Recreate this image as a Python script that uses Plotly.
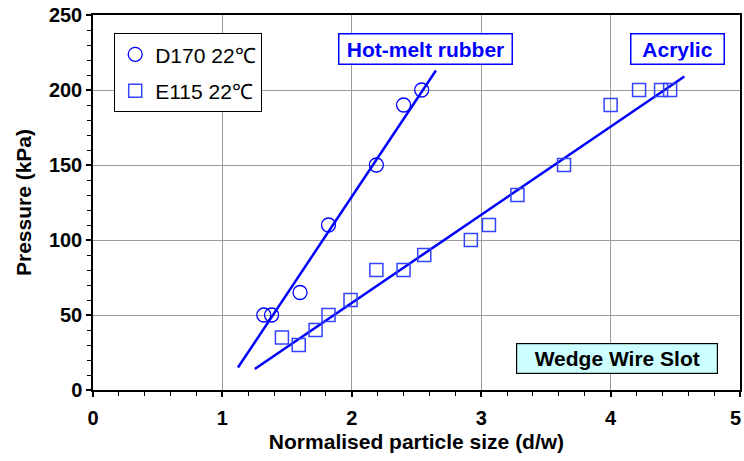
import plotly.graph_objects as go

# D170 22℃ (Hot-melt rubber) data
d170_x = [1.32, 1.38, 1.60, 1.82, 2.19, 2.40, 2.54]
d170_y = [50, 50, 65, 110, 150, 190, 200]

# E115 22℃ (Acrylic) data
e115_x = [1.46, 1.59, 1.72, 1.82, 1.99, 2.19, 2.40, 2.56, 2.92, 3.06, 3.28, 3.64, 4.00, 4.22, 4.39, 4.46]
e115_y = [35, 30, 40, 50, 60, 80, 80, 90, 100, 110, 130, 150, 190, 200, 200, 200]

# Trend line endpoints
hm_line_x = [1.12, 2.65]
hm_line_y = [15, 213]
ac_line_x = [1.25, 4.57]
ac_line_y = [14, 209]

x_ticks = [0, 1, 2, 3, 4, 5]
y_ticks = [0, 50, 100, 150, 200, 250]

BLUE = "#0000FF"
FONT = "Liberation Sans, Arial, sans-serif"

L, R, T, B = 93, 740, 15, 390
W, H = R - L, B - T


def px(xp):
    return (xp - L) / W


def py(yp):
    return 1 - (yp - T) / H


fig = go.Figure()
fig.add_trace(go.Scatter(x=hm_line_x, y=hm_line_y, mode="lines",
                         line=dict(color=BLUE, width=2.5), showlegend=False, hoverinfo="skip"))
fig.add_trace(go.Scatter(x=ac_line_x, y=ac_line_y, mode="lines",
                         line=dict(color=BLUE, width=2.5), showlegend=False, hoverinfo="skip"))
fig.add_trace(go.Scatter(x=d170_x, y=d170_y, mode="markers", name="D170 22℃", legendgroup="a",
                         marker=dict(symbol="circle-open", size=14, color=BLUE, line=dict(width=1.3, color=BLUE))))
fig.add_trace(go.Scatter(x=e115_x, y=e115_y, mode="markers", name="E115 22℃", legendgroup="b",
                         marker=dict(symbol="square-open", size=13, color="#3344FF", line=dict(width=1.5, color="#3344FF"))))

TICKFONT = dict(family=FONT, size=20, color="black", weight="bold")
axis_common = dict(showline=True, linecolor="black", linewidth=1.5, mirror=True,
                   ticks="outside", ticklen=5, tickwidth=1.5, tickcolor="black",
                   showgrid=True, gridcolor="#9a9a9a", gridwidth=1, zeroline=False,
                   automargin=False, tickfont=TICKFONT)

fig.update_xaxes(range=[0, 5], tickmode="array", tickvals=x_ticks, ticklabelstandoff=4,
                 minor=dict(dtick=0.2, ticks="outside", ticklen=4, tickcolor="black", tickwidth=1.2, showgrid=False),
                 title=dict(text="Normalised particle size (d/w)", standoff=7,
                            font=dict(family=FONT, size=21, color="black", weight="bold")),
                 **axis_common)
fig.update_yaxes(range=[0, 250], tickmode="array", tickvals=y_ticks,
                 minor=dict(dtick=10, ticks="outside", ticklen=4, tickcolor="black", tickwidth=1.2, showgrid=False),
                 title=dict(text="Pressure (kPa)", standoff=12,
                            font=dict(family=FONT, size=21, color="black", weight="bold")),
                 **axis_common)

# last x tick label (plotly hides it because it would overflow the page edge)
fig.add_annotation(x=x_ticks[-1], y=0, xref="x", yref="paper", xanchor="right", yanchor="top",
                   xshift=3, yshift=-15, text="<b>%d</b>" % x_ticks[-1], showarrow=False,
                   font=dict(family=FONT, size=20, color="black"))

fig.add_annotation(x=px(425), y=py(49), xref="paper", yref="paper", xanchor="center", yanchor="middle",
                   text="<b>Hot-melt rubber</b>", showarrow=False,
                   font=dict(family=FONT, size=21, color=BLUE),
                   bordercolor=BLUE, borderwidth=1.5, borderpad=3, bgcolor="white", width=166)
fig.add_annotation(x=px(677), y=py(49), xref="paper", yref="paper", xanchor="center", yanchor="middle",
                   text="<b>Acrylic</b>", showarrow=False,
                   font=dict(family=FONT, size=21, color=BLUE),
                   bordercolor=BLUE, borderwidth=1.5, borderpad=3, bgcolor="white", width=86)
fig.add_annotation(x=px(617), y=py(358), xref="paper", yref="paper", xanchor="center", yanchor="middle",
                   text="<b>Wedge Wire Slot</b>", showarrow=False,
                   font=dict(family=FONT, size=21, color="black"),
                   bordercolor="black", borderwidth=1.2, borderpad=3, bgcolor="#CCFFFF",
                   width=194)

fig.update_layout(
    width=744, height=461,
    margin=dict(l=L, r=744 - R, t=T, b=461 - B),
    paper_bgcolor="white", plot_bgcolor="white",
    font=dict(family=FONT, color="black"),
    legend=dict(x=px(114), y=py(33), xanchor="left", yanchor="top",
                bgcolor="white", bordercolor="black", borderwidth=1.2,
                font=dict(family=FONT, size=21, color="black"),
                itemwidth=30, tracegroupgap=6),
)

fig.write_html("out.html")
